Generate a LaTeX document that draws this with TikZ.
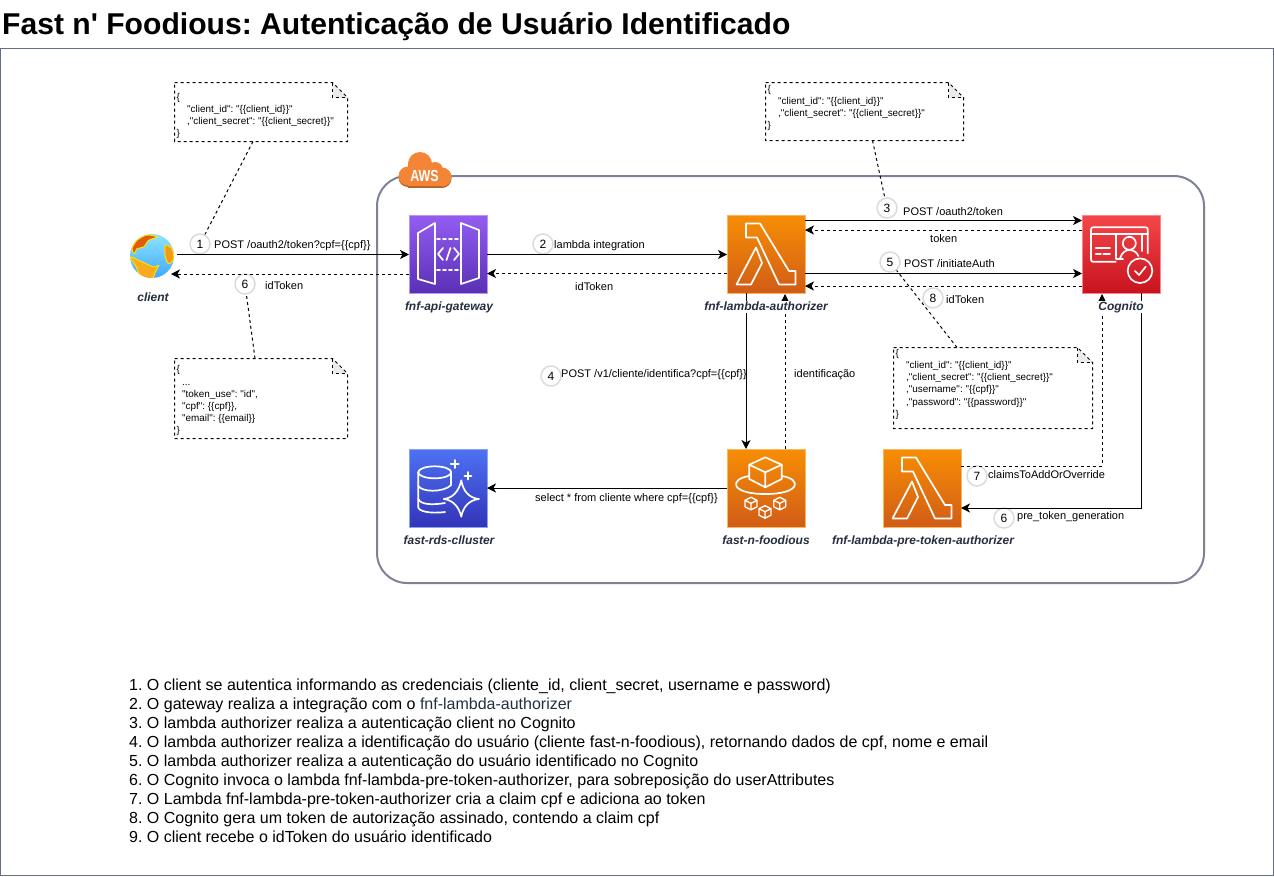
\documentclass[tikz,border=0pt]{standalone}
\usepackage{fontspec}
\setmainfont{Liberation Sans}[Ligatures=TeXOff]
\usetikzlibrary{arrows.meta}
\frenchspacing
\definecolor{inkblue}{RGB}{35,47,62}
\definecolor{awsgrey}{RGB}{125,130,152}
\definecolor{awsorange}{RGB}{245,133,54}
\definecolor{framegrey}{RGB}{100,110,135}
\definecolor{gatewaytop}{RGB}{148,93,242}
\definecolor{gatewaybot}{RGB}{90,48,181}
\definecolor{lambdatop}{RGB}{247,142,4}
\definecolor{lambdabot}{RGB}{208,92,23}
\definecolor{cognitotop}{RGB}{245,71,73}
\definecolor{cognitobot}{RGB}{199,19,31}
\definecolor{rdstop}{RGB}{77,114,243}
\definecolor{rdsbot}{RGB}{51,52,185}
\definecolor{landyellow}{RGB}{250,170,30}
\definecolor{landred}{RGB}{222,92,12}
\tikzset{
    awsicon/.style 2 args={shade, top color=#1, bottom color=#2, draw=#1!65!white, line width=.75pt,
        minimum size=78pt, inner sep=0, outer sep=0},
    iconname/.style={font=\fontsize{12}{14}\selectfont\bfseries\itshape, text=inkblue, inner sep=0,
        fill=white, text height=9pt, text depth=3pt},
    glyph/.style={draw=white, line width=1.7pt, line join=round, line cap=round},
    flow/.style={draw, line width=1pt, -{Stealth[length=9pt,width=9pt,inset=2.5pt]}},
    backflow/.style={flow, dash pattern=on 3pt off 3pt},
    badge/.style={circle, draw=black!14, fill=white, line width=1.5pt, minimum size=20pt, inner sep=0,
        font=\fontsize{12}{14}\selectfont},
    flowlabel/.style={anchor=west, inner sep=0, yshift=-1.5pt, font=\fontsize{11}{12}\selectfont},
    notebox/.style={minimum width=#1, inner sep=0, outer sep=0},
    notetext/.style={anchor=north west, align=left, inner sep=0, font=\fontsize{9.9}{12.2}\selectfont},
    noteline/.style={draw, line width=1pt, dash pattern=on 3pt off 3pt}
}
\begin{document}
\begin{tikzpicture}[x=1pt, y=-1pt]
    \useasboundingbox (0,0) rectangle (1274,876);

    % Title and frame
    \node[anchor=west, inner sep=0, font=\fontsize{30.1}{34}\selectfont\bfseries] (title) at (2,27)
        {Fast n' Foodious: Autenticação de Usuário Identificado};
    \draw[framegrey, line width=.8pt] (.5,48.5) rectangle (1273.5,875.5);

    % AWS group
    \node[draw=awsgrey, line width=2pt, rounded corners=30pt, minimum width=827pt, minimum height=407pt,
        inner sep=0] (group) at (790.5,379.5) {};
    \foreach \dy/\c in {1.5/awsorange!75!black, 0/awsorange} {
        \foreach \cx/\cy/\r in {408/176/9.5, 420/164/12, 435/170/8, 442/177/9.5} {
            \fill[\c] (\cx,\cy+\dy) circle (\r);
        }
        \fill[\c] (408,170+\dy) rectangle (442,186+\dy);
    }
    \node[text=white, inner sep=0, xscale=.78, font=\fontsize{16}{18}\selectfont\bfseries] (awstag) at (424.5,176) {AWS};

    % Create services
    \node[circle, minimum size=44pt, inner sep=0, outer sep=0, shade, top color=blue!25!cyan!45!white,
        bottom color=blue!45!cyan!75!white] (client) at (152,256) {};
    \node[awsicon={gatewaytop}{gatewaybot}] (gateway) at (448,254) {};
    \node[awsicon={lambdatop}{lambdabot}] (authorizer) at (766,254) {};
    \node[awsicon={cognitotop}{cognitobot}] (cognito) at (1121,254) {};
    \node[awsicon={rdstop}{rdsbot}] (rds) at (448,488) {};
    \node[awsicon={lambdatop}{lambdabot}] (foodious) at (766,488) {};
    \node[awsicon={lambdatop}{lambdabot}] (pretoken) at (922,488) {};

    % Globe
    \begin{scope}[shift={(client.center)}]
        \clip (0,0) circle (22);
        \draw[fill=landyellow, draw=yellow!85!orange, line width=1pt] plot[smooth cycle] coordinates
            {(-22,1) (-13.3,4.3) (1.7,11) (6.7,9.3) (3.3,16) (0,23) (-11.7,19.3) (-15.7,11)};
        \draw[fill=landred, draw=yellow!85!orange, line width=1pt] plot[smooth cycle] coordinates
            {(-20,-7.3) (-15,-15.7) (-5,-21) (5,-19) (-3.3,-15.7) (-8.3,-9) (-15,-7.3) (-17.7,-2.3)};
        \draw[fill=landyellow!80!landred, draw=yellow!85!orange, line width=1pt] plot[smooth cycle] coordinates
            {(13.3,-10.7) (20,-7.3) (21.7,2.7) (16.7,7.7) (13.3,1)};
    \end{scope}

    % Gateway glyph
    \begin{scope}[shift={(gateway.north west)}]
        \draw[glyph] (9,18) -- (26,8) -- (26,69) -- (9,64) -- cycle;
        \draw[glyph] (52,8) -- (70,15) -- (70,63) -- (52,69) -- cycle;
        \draw[glyph, dash pattern=on 3pt off 3pt] (28,24) -- (51,24) (28,55) -- (51,55);
        \draw[glyph] (34,33) -- (29,39) -- (34,45) (41.5,33) -- (37.5,45) (45,33) -- (50,39) -- (45,45);
    \end{scope}

    % Lambda glyphs
    \foreach \n in {authorizer,pretoken} {
        \begin{scope}[shift={(\n.north west)}]
            \draw[glyph] (19,8.5) -- (33,8.5) -- (62,56) -- (68.5,56) -- (68.5,69.5) -- (52,69.5) -- (30,22.5) -- (19,22.5) -- cycle;
            \draw[glyph] (29,32.5) -- (35,48) -- (24,69.5) -- (9.5,69.5) -- cycle;
        \end{scope}
    }

    % Cognito glyph
    \begin{scope}[shift={(cognito.north west)}]
        \draw[glyph, rounded corners=2pt] (33.7,46.7) -- (9,46.7) -- (9,12.3) -- (65.7,12.3) -- (65.7,38.3);
        \draw[glyph] (9,19) -- (65.7,19) (59.7,19) -- (59.7,36) (33.7,19) -- (33.7,44.3) -- (41,44.3);
        \draw[glyph] (47.3,28.3) circle (6.5);
        \draw[glyph] (38,43.3) .. controls (40,37) and (44,35) .. (47.3,35) .. controls (51,35) and (55,37) .. (56.3,41);
        \draw[glyph] (13.7,33.3) -- (28,33.3) (13.7,39) -- (19,39) (21.3,39) -- (28,39);
        \draw[glyph] (58,55.7) circle (12.3);
        \draw[glyph] (53,56) -- (57,60) -- (63.7,51.7);
    \end{scope}

    % RDS glyph
    \begin{scope}[shift={(rds.north west)}]
        \draw[glyph] (25.7,23.3) ellipse (16.5 and 6);
        \draw[glyph] (9.2,23.3) -- (9.2,58) .. controls (9.2,62) and (20,65) .. (36,63);
        \draw[glyph] (42.2,23.3) -- (42.2,36);
        \draw[glyph] (9.2,36.7) .. controls (12,43) and (34,44) .. (42.2,36);
        \draw[glyph] (9.2,50) .. controls (12,56) and (24,56) .. (36,54);
        \draw[glyph] (52.3,31.3) .. controls (54,42) and (60,49) .. (70,50) .. controls (60,51) and (54,58) .. (52.3,67.7)
            .. controls (50,58) and (44,51) .. (34.7,50) .. controls (44,49) and (50,42) .. (52.3,31.3) -- cycle;
        \draw[glyph] (41.7,15) -- (49.7,15) (45.7,11) -- (45.7,19) (55.5,26.7) -- (62.5,26.7) (59,23) -- (59,30.5);
    \end{scope}

    % Fast-n-foodious glyph
    \begin{scope}[shift={(foodious.north west)}]
        \draw[glyph] (38.3,8.3) -- (54.7,15.7) -- (54.7,30) -- (38.3,38.3) -- (22.3,30) -- (22.3,15.7) -- cycle;
        \draw[glyph] (22.3,15.7) -- (38.3,23.3) -- (54.7,15.7) (38.3,23.3) -- (38.3,38.3);
        \draw[glyph] (22.3,27) .. controls (2,30) and (3,45) .. (38.3,45) .. controls (74,45) and (75,30) .. (54.7,27);
        \foreach \cx/\cy in {24/54.3, 38/62.7, 52.7/54.3} {
            \draw[glyph, line width=1.3pt] (\cx,\cy-6) -- (\cx+6,\cy-3) -- (\cx+6,\cy+3.5) -- (\cx,\cy+6.5) -- (\cx-6,\cy+3.5) -- (\cx-6,\cy-3) -- cycle
                (\cx-6,\cy-3) -- (\cx,\cy) -- (\cx+6,\cy-3) (\cx,\cy) -- (\cx,\cy+6.5);
        }
    \end{scope}

    % Create notes
    \node[notebox=173pt, minimum height=59pt] (noteA) at (261,112) {};
    \node[notebox=198pt, minimum height=58pt] (noteB) at (864.5,111.5) {};
    \node[notebox=173pt, minimum height=80pt] (noteC) at (261,398.5) {};
    \node[notebox=199pt, minimum height=81pt] (noteD) at (993,388) {};
    \foreach \n in {noteA,noteB,noteC,noteD} {
        \fill[black!8] ([xshift=-15pt]\n.north east) -- ([xshift=-15pt,yshift=-15pt]\n.north east) -- ([yshift=-15pt]\n.north east) -- cycle;
        \draw[noteline] (\n.north west) -- ([xshift=-15pt]\n.north east) -- ([yshift=-15pt]\n.north east)
            -- (\n.south east) -- (\n.south west) -- cycle;
        \draw[noteline] ([xshift=-15pt]\n.north east) -- ([xshift=-15pt,yshift=-15pt]\n.north east) -- ([yshift=-15pt]\n.north east);
    }
    \node[notetext] (noteAtext) at (176.5,93) {\{\\\hspace*{10.5pt}"client\_id": "\{\{client\_id\}\}"\\\hspace*{10.5pt},"client\_secret": "\{\{client\_secret\}\}"\\\}};
    \node[notetext] (noteBtext) at (767.5,85) {\{\\\hspace*{10.5pt}"client\_id": "\{\{client\_id\}\}"\\\hspace*{10.5pt},"client\_secret": "\{\{client\_secret\}\}"\\\}};
    \node[notetext] (noteCtext) at (176.5,365.5) {\{\\\hspace*{5.5pt}...\\\hspace*{5.5pt}"token\_use": "id",\\\hspace*{5.5pt}"cpf": \{\{cpf\}\},\\\hspace*{5.5pt}"email": \{\{email\}\}\\\}};
    \node[notetext] (noteDtext) at (895.5,349) {\{\\\hspace*{10.5pt}"client\_id": "\{\{client\_id\}\}"\\\hspace*{10.5pt},"client\_secret": "\{\{client\_secret\}\}"\\\hspace*{10.5pt},"username": "\{\{cpf\}\}"\\\hspace*{10.5pt},"password": "\{\{password\}\}"\\\}};

    % Create step badges
    \node[badge] (stepA) at (200,244) {1};
    \node[badge] (stepF) at (245,284) {6};
    \node[badge] (stepB) at (543,244) {2};
    \node[badge] (stepC) at (887,208) {3};
    \node[badge] (stepE) at (890,262) {5};
    \node[badge] (stepH) at (933,298) {8};
    \node[badge] (stepD) at (551,376) {4};
    \node[badge] (stepG) at (977,476) {7};
    \node[badge] (stepI) at (1004,518) {6};

    % Draw connectors
    \draw[flow] ([xshift=3pt,yshift=1.5pt]client.east) -- ([yshift=-.5pt]gateway.west);
    \draw[backflow] ([yshift=-20pt]gateway.west) -- ([xshift=-3pt,yshift=-18pt]client.east);
    \draw[flow] ([yshift=-.5pt]gateway.east) -- ([yshift=-.5pt]authorizer.west);
    \draw[backflow] ([yshift=-19.5pt]authorizer.west) -- ([yshift=-19.5pt]gateway.east);
    \draw[flow] ([yshift=33.5pt]authorizer.east) -- ([yshift=33.5pt]cognito.west);
    \draw[backflow] ([yshift=24pt]cognito.west) -- ([yshift=24pt]authorizer.east);
    \draw[flow] ([yshift=-19.5pt]authorizer.east) -- ([yshift=-19.5pt]cognito.west);
    \draw[backflow] ([yshift=-32pt]cognito.west) -- ([yshift=-32pt]authorizer.east);
    \draw[flow] ([xshift=-20pt]authorizer.south) -- ([xshift=-20pt]foodious.north);
    \draw[backflow] ([xshift=19pt]foodious.north) -- ([xshift=19pt,yshift=-1pt]authorizer.south);
    \draw[flow] (foodious.west) -- (rds.east);
    \draw[flow] ([xshift=20pt]cognito.south) |- ([yshift=-20pt]pretoken.east);
    \draw[backflow] ([yshift=22pt]pretoken.east) -| ([xshift=-19pt,yshift=-1pt]cognito.south);

    % Draw note connectors
    \draw[noteline] ([xshift=-8pt]noteA.south) -- (stepA);
    \draw[noteline] ([xshift=8pt]noteB.south) -- (stepC);
    \draw[noteline] ([xshift=-6pt]noteC.north) -- (stepF);
    \draw[noteline] ([xshift=-36pt]noteD.north) -- (stepE);

    % Service names
    \node[iconname] (clientname) at (153,298) {client};
    \node[iconname] (gatewayname) at (449,307) {fnf-api-gateway};
    \node[iconname] (authorizername) at (766,307) {fnf-lambda-authorizer};
    \node[iconname] (cognitoname) at (1121,307) {Cognito};
    \node[iconname] (rdsname) at (449,541) {fast-rds-clluster};
    \node[iconname] (foodiousname) at (766,541) {fast-n-foodious};
    \node[iconname] (pretokenname) at (923,541) {fnf-lambda-pre-token-authorizer};

    % Connector labels
    \node[flowlabel] (labelA) at (214,244) {POST /oauth2/token?cpf=\{\{cpf\}\}};
    \node[flowlabel] (labelF) at (265,284) {idToken};
    \node[flowlabel] (labelB) at (554,244) {lambda integration};
    \node[flowlabel] (labelBback) at (575,285) {idToken};
    \node[flowlabel] (labelC) at (903,210) {POST /oauth2/token};
    \node[flowlabel] (labelCback) at (930,237) {token};
    \node[flowlabel] (labelE) at (904,262) {POST /initiateAuth};
    \node[flowlabel] (labelH) at (946,298) {idToken};
    \node[flowlabel] (labelD) at (561,373) {POST /v1/cliente/identifica?cpf=\{\{cpf\}\}};
    \node[flowlabel] (labelDback) at (794,373) {identificação};
    \node[flowlabel] (labelR) at (535,497) {select * from cliente where cpf=\{\{cpf\}\}};
    \node[flowlabel] (labelG) at (988,473) {claimsToAddOrOverride};
    \node[flowlabel] (labelI) at (1017,515) {pre\_token\_generation};

    % Step list
    \node[anchor=north west, align=left, inner sep=0, font=\fontsize{16}{19}\selectfont] (steps) at (129,679) {%
        1. O client se autentica informando as credenciais (cliente\_id, client\_secret, username e password)\\
        2. O gateway realiza a integração com o \textcolor{inkblue}{fnf-lambda-authorizer}\\
        3. O lambda authorizer realiza a autenticação client no Cognito\\
        4. O lambda authorizer realiza a identificação do usuário (cliente fast-n-foodious), retornando dados de cpf, nome e email\\
        5. O lambda authorizer realiza a autenticação do usuário identificado no Cognito\\
        6. O Cognito invoca o lambda fnf-lambda-pre-token-authorizer, para sobreposição do userAttributes\\
        7. O Lambda fnf-lambda-pre-token-authorizer cria a claim cpf e adiciona ao token\\
        8. O Cognito gera um token de autorização assinado, contendo a claim cpf\\
        9. O client recebe o idToken do usuário identificado};
\end{tikzpicture}
\end{document}
